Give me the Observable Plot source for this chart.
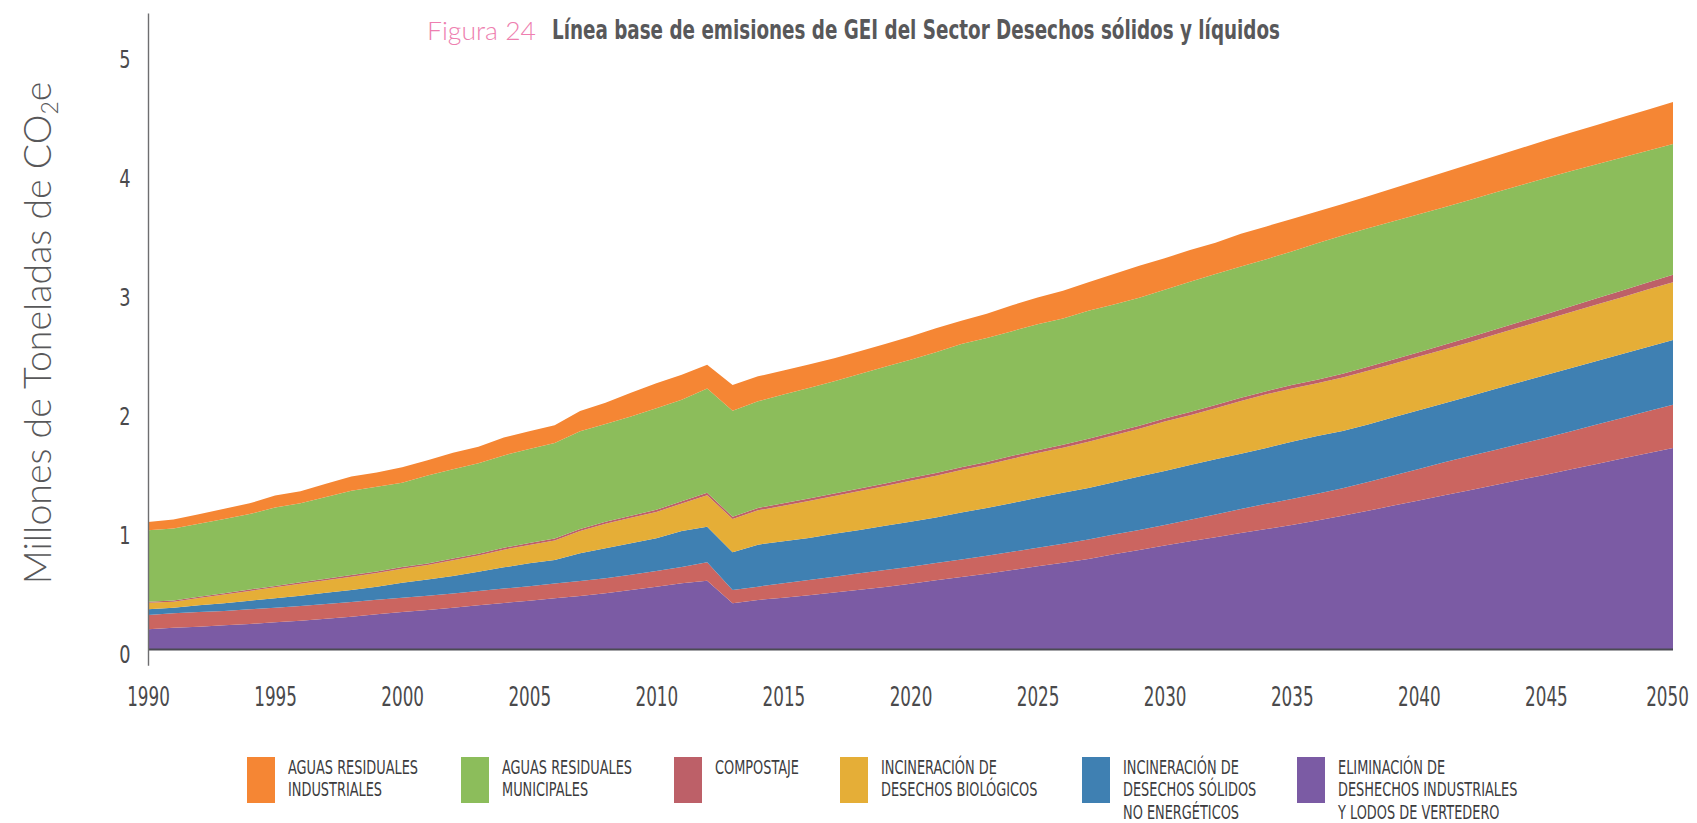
<!DOCTYPE html>
<html>
<head>
<meta charset="utf-8">
<script src="https://cdn.jsdelivr.net/npm/d3@7"></script>
<script src="https://cdn.jsdelivr.net/npm/@observablehq/plot@0.6"></script>
<style>
  body { margin: 0; background: #fff; }
  #wrap { position: relative; width: 1697px; height: 823px; overflow: hidden; background: #fff; }
  .narrow { font-family: "Liberation Sans Narrow", "DejaVu Sans Condensed", "Roboto Condensed", "Arial Narrow", sans-serif; font-stretch: condensed; }
  #title { position: absolute; left: 427px; top: 13px; white-space: nowrap; line-height: 34px; }
  #fig { position: absolute; left: 0; top: 0; font-family: Lato, "Open Sans", sans-serif; font-weight: 300; font-size: 26px; color: #ee7fb0; transform-origin: 0 50%; white-space: nowrap; }
  #ttl { position: absolute; left: 125px; top: 0; font-weight: bold; font-size: 27px; color: #58585a; transform-origin: 0 50%; white-space: nowrap; }
  #ytitle { position: absolute; left: 38px; top: 333px; transform: translate(-50%, -50%) rotate(-90deg); white-space: nowrap; font-family: Lato, "Open Sans", sans-serif; font-weight: 300; font-size: 37.5px; color: #58585a; }
  #ytitle sub { font-size: 23px; vertical-align: -7px; }
  #chart { position: absolute; left: 0; top: 0; }
  #legend { position: absolute; left: 0; top: 745px; }
</style>
</head>
<body>
<div id="wrap">
  <div id="title"><span id="fig">Figura 24</span><span id="ttl" class="narrow">Línea base de emisiones de GEI del Sector Desechos sólidos y líquidos</span></div>
  <div id="ytitle">Millones de Toneladas de CO<sub>2</sub>e</div>
  <div id="chart"></div>
  <div id="legend"></div>
</div>
<script>
// ---------- DATA (millones de toneladas de CO2e) ----------
const firstYear = 1990;
const lastYear = 2050;
const years = d3.range(firstYear, lastYear + 1);

const xTicks = [1990, 1995, 2000, 2005, 2010, 2015, 2020, 2025, 2030, 2035, 2040, 2045, 2050];
const yTicks = [0, 1, 2, 3, 4, 5];

// stack order, bottom to top
const seriesNames = [
  "Eliminación de deshechos industriales y lodos de vertedero",
  "Otros (sin etiqueta)",
  "Incineración de desechos sólidos no energéticos",
  "Incineración de desechos biológicos",
  "Compostaje",
  "Aguas residuales municipales",
  "Aguas residuales industriales"
];
const seriesColors = ["#7b5ba4", "#cb6560", "#3f80b2", "#e5ae37", "#bd6068", "#8cbd5b", "#f58634"];

const eliminacion = [
  0.165,0.179,0.188,0.199,0.210,0.224,0.238,0.255,0.272,0.291,
  0.311,0.328,0.347,0.367,0.387,0.406,0.426,0.446,0.468,0.496,
  0.524,0.552,0.574,0.384,0.412,0.431,0.452,0.474,0.497,0.521,
  0.548,0.577,0.605,0.633,0.664,0.695,0.725,0.756,0.796,0.832,
  0.870,0.905,0.940,0.975,1.008,1.042,1.079,1.119,1.161,1.205,
  1.248,1.291,1.335,1.379,1.422,1.465,1.510,1.555,1.600,1.645,
  1.689];
const sinEtiqueta = [
  0.120,0.121,0.122,0.121,0.123,0.123,0.124,0.123,0.123,0.122,
  0.119,0.120,0.120,0.120,0.121,0.122,0.124,0.126,0.127,0.129,
  0.131,0.138,0.154,0.112,0.112,0.121,0.128,0.134,0.139,0.143,
  0.144,0.145,0.147,0.150,0.153,0.156,0.160,0.164,0.167,0.169,
  0.172,0.182,0.191,0.201,0.212,0.218,0.225,0.231,0.242,0.254,
  0.265,0.278,0.286,0.294,0.302,0.310,0.320,0.331,0.342,0.352,
  0.364];
const incSolidos = [
  0.048,0.047,0.057,0.064,0.073,0.079,0.086,0.095,0.101,0.111,
  0.127,0.137,0.146,0.163,0.178,0.192,0.198,0.232,0.251,0.263,
  0.275,0.302,0.300,0.316,0.353,0.353,0.353,0.361,0.364,0.372,
  0.378,0.382,0.395,0.402,0.410,0.421,0.429,0.433,0.438,0.448,
  0.454,0.459,0.463,0.465,0.469,0.482,0.485,0.482,0.484,0.488,
  0.493,0.496,0.503,0.511,0.519,0.527,0.531,0.534,0.537,0.541,
  0.544];
const incBiologicos = [
  0.055,0.051,0.061,0.074,0.082,0.092,0.100,0.105,0.112,0.114,
  0.118,0.120,0.132,0.135,0.149,0.155,0.164,0.188,0.206,0.214,
  0.222,0.230,0.264,0.280,0.288,0.299,0.310,0.316,0.327,0.333,
  0.344,0.352,0.358,0.364,0.372,0.375,0.378,0.389,0.395,0.401,
  0.415,0.418,0.429,0.444,0.451,0.448,0.444,0.450,0.451,0.451,
  0.451,0.451,0.454,0.458,0.462,0.466,0.470,0.474,0.477,0.482,
  0.485];
const compostaje = [
  0.010,0.010,0.011,0.011,0.012,0.012,0.012,0.013,0.013,0.013,
  0.014,0.014,0.015,0.015,0.016,0.016,0.017,0.017,0.018,0.018,
  0.019,0.019,0.020,0.020,0.020,0.021,0.021,0.021,0.022,0.022,
  0.022,0.023,0.023,0.023,0.024,0.024,0.024,0.025,0.025,0.026,
  0.026,0.027,0.027,0.027,0.027,0.028,0.029,0.031,0.033,0.035,
  0.037,0.040,0.042,0.043,0.045,0.046,0.050,0.053,0.056,0.059,
  0.062];
const aguasMunicipales = [
  0.600,0.605,0.614,0.624,0.634,0.659,0.665,0.687,0.708,0.712,
  0.709,0.738,0.750,0.760,0.776,0.789,0.802,0.820,0.820,0.834,
  0.853,0.853,0.877,0.891,0.896,0.913,0.930,0.944,0.961,0.981,
  0.994,1.014,1.034,1.042,1.048,1.058,1.062,1.076,1.075,1.075,
  1.081,1.095,1.102,1.103,1.109,1.123,1.148,1.162,1.164,1.162,
  1.160,1.157,1.154,1.151,1.147,1.145,1.136,1.127,1.118,1.109,
  1.100];
const aguasIndustriales = [
  0.070,0.075,0.080,0.085,0.090,0.100,0.100,0.110,0.120,0.120,
  0.130,0.130,0.140,0.140,0.150,0.150,0.150,0.170,0.180,0.200,
  0.210,0.210,0.200,0.215,0.210,0.202,0.196,0.194,0.193,0.190,
  0.197,0.202,0.196,0.204,0.218,0.224,0.232,0.238,0.255,0.269,
  0.266,0.266,0.262,0.274,0.275,0.272,0.267,0.265,0.270,0.277,
  0.285,0.293,0.299,0.305,0.311,0.316,0.323,0.330,0.338,0.344,
  0.352];

const seriesValues = [eliminacion, sinEtiqueta, incSolidos, incBiologicos, compostaje, aguasMunicipales, aguasIndustriales];

// legend, in the reference's order (top of the stack first)
const legendSeries = [6, 5, 4, 3, 2, 0];
const legendLabels = [
  ["AGUAS RESIDUALES", "INDUSTRIALES"],
  ["AGUAS RESIDUALES", "MUNICIPALES"],
  ["COMPOSTAJE"],
  ["INCINERACIÓN DE", "DESECHOS BIOLÓGICOS"],
  ["INCINERACIÓN DE", "DESECHOS SÓLIDOS", "NO ENERGÉTICOS"],
  ["ELIMINACIÓN DE", "DESHECHOS INDUSTRIALES", "Y LODOS DE VERTEDERO"]
];

// ---------- BUILD ----------
const rows = [];
seriesNames.forEach((s, i) => years.forEach((yr, j) => rows.push({year: yr, serie: s, value: seriesValues[i][j]})));

const narrow = '"Liberation Sans Narrow", "DejaVu Sans Condensed", "Roboto Condensed", "Arial Narrow", sans-serif';

const chart = Plot.plot({
  width: 1697,
  height: 730,
  marginLeft: 148,
  marginRight: 24,
  marginTop: 54,
  marginBottom: 81,
  x: {domain: [firstYear, lastYear], range: [148, 1673]},
  y: {domain: [0, 5], range: [649, 54]},
  color: {domain: seriesNames, range: seriesColors},
  style: {fontFamily: narrow, color: "#4a4a4c", background: "transparent", overflow: "visible"},
  marks: [
    Plot.areaY(rows, {x: "year", y: "value", z: "serie", fill: "serie", order: seriesNames, curve: "linear"}),
    Plot.ruleY([0], {stroke: "#4a4a52", strokeWidth: 2.2}),
    Plot.ruleX([firstYear], {y1: -0.14, y2: 5.34, stroke: "#6e6e70", strokeWidth: 1.4}),
    Plot.axisY({ticks: yTicks, tickSize: 0, tickPadding: 18, tickFormat: d => String(d), fontSize: 24, dy: 6, label: null}),
    Plot.axisX({ticks: xTicks, tickSize: 0, tickPadding: 37, tickFormat: d => String(d), fontSize: 27, label: null})
  ]
});
document.getElementById("chart").appendChild(chart);

// condense tick labels (the reference uses a condensed face)
function condense(sel, factor) {
  sel.each(function () {
    const w = this.getComputedTextLength();
    if (w > 0) {
      this.setAttribute("textLength", (w * factor).toFixed(2));
      this.setAttribute("lengthAdjust", "spacingAndGlyphs");
    }
  });
}
const xLabels = d3.select(chart).selectAll("g[aria-label='x-axis tick label'] text");
condense(xLabels, 0.69);
condense(d3.select(chart).selectAll("g[aria-label='y-axis tick label'] text"), 0.82);
// the last year label sits against the right edge: anchor it by its end, a few px inside
const lastLabel = xLabels.nodes()[xLabels.size() - 1];
if (lastLabel) {
  const half = parseFloat(lastLabel.getAttribute("textLength")) / 2;
  lastLabel.setAttribute("text-anchor", "end");
  lastLabel.setAttribute("dx", (half - 6).toFixed(2));
}

// legend as its own SVG below the chart (layout positions only)
const legendLeft = [247, 461, 674, 840, 1082, 1297];
const legSvg = d3.select("#legend").append("svg").attr("width", 1697).attr("height", 78);
const items = legSvg.selectAll("g").data(legendLabels).join("g")
  .attr("transform", (d, k) => `translate(${legendLeft[k]},12)`);
items.append("rect").attr("width", 28).attr("height", 46)
  .attr("fill", (d, k) => seriesColors[legendSeries[k]]);
items.each(function (lines) {
  d3.select(this).selectAll("text").data(lines).join("text")
    .attr("x", 41).attr("y", (l, i) => 17 + i * 22.3)
    .attr("font-family", narrow).attr("font-size", 20).attr("fill", "#3c3c3e")
    .text(l => l);
});
const refW = legSvg.select("text").node().getComputedTextLength();
condense(legSvg.selectAll("text"), 130 / refW);

// fit title pieces to the reference widths
function fitWidth(el, target) {
  const w = el.getBoundingClientRect().width;
  if (w > 0) el.style.transform = "scaleX(" + (target / w) + ")";
}
fitWidth(document.getElementById("fig"), 109);
fitWidth(document.getElementById("ttl"), 728);
</script>
</body>
</html>
